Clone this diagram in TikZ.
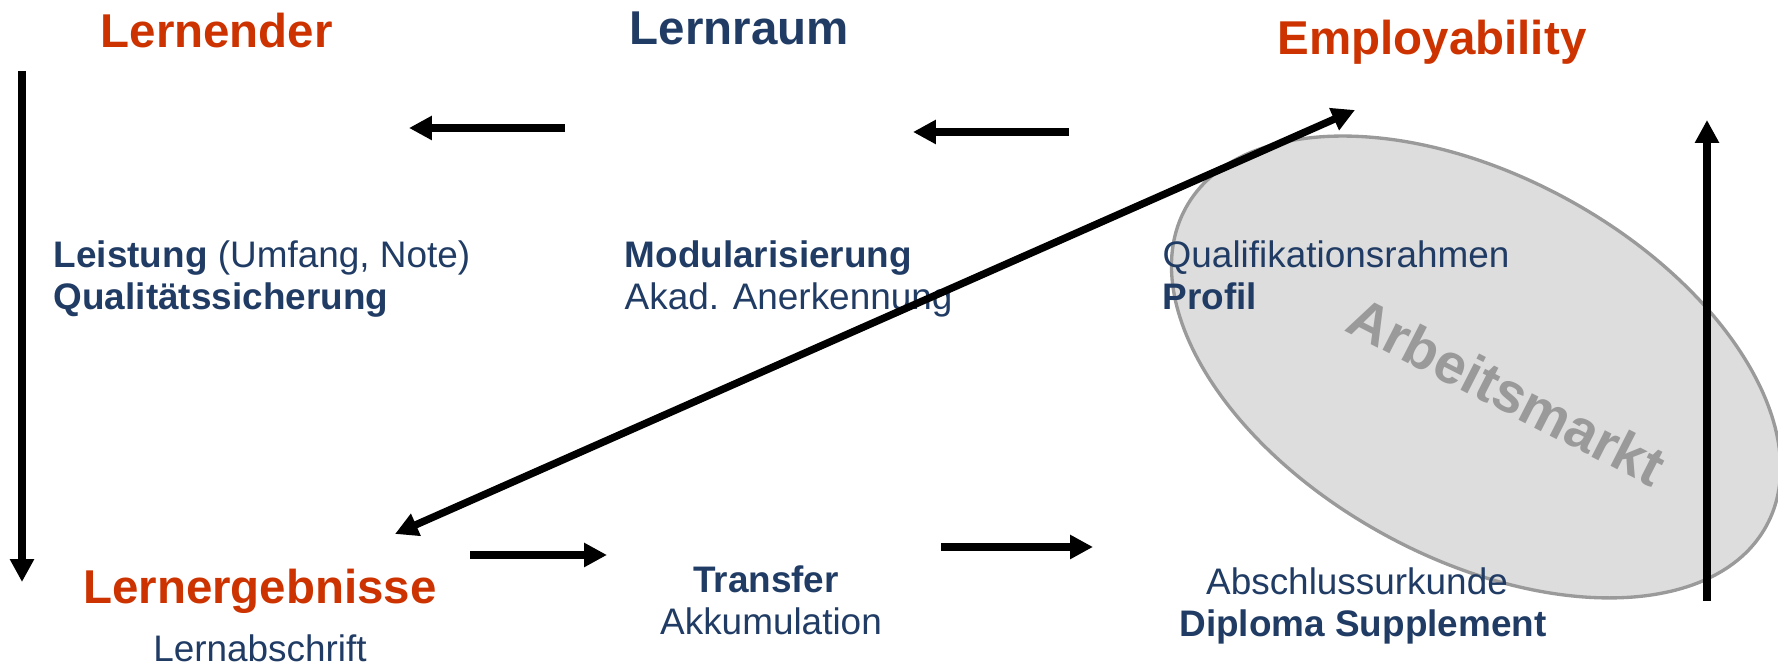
\documentclass[tikz,border=0pt]{standalone}
\usepackage{fontspec}
\setmainfont{Liberation Sans}
\usetikzlibrary{arrows.meta}
\definecolor{hred}{HTML}{CC3300}
\definecolor{hblue}{RGB}{33,60,100}
\definecolor{ellfill}{HTML}{DDDDDD}
\definecolor{elledge}{HTML}{9A9A9A}
\begin{document}
\begin{tikzpicture}[x=0.01cm,y=-0.01cm,
  heading/.style={inner sep=0pt, anchor=base west, font=\fontsize{13.5}{16}\selectfont\bfseries},
  body/.style={inner sep=0pt, anchor=base west, text=hblue, font=\fontsize{10.5}{12.6}\selectfont},
  arr/.style={line width=2.1pt, -{Triangle[length=6.5pt,width=6.5pt]}},
  darr/.style={line width=2.1pt, {Triangle[length=6.5pt,width=6.5pt]}-{Triangle[length=6.5pt,width=6.5pt]}},
  ellstyle/.style={fill=ellfill, draw=elledge, line width=0.95pt}]
\useasboundingbox (0,0) rectangle (1778,668);

% Arbeitsmarkt ellipse
\draw[ellstyle, rotate around={-28.7:(1476,367)}] (1476,367) ellipse [x radius=331, y radius=191];
\node[rotate=-27, inner sep=0pt, text=elledge, font=\fontsize{16}{19}\selectfont\bfseries] (markt) at (1507,391) {Arbeitsmarkt};

% headings
\node[heading, text=hred] (lernender) at (100,48) {Lernender};
\node[heading, text=hblue] (lernraum) at (629,45) {Lernraum};
\node[heading, text=hred] (employ) at (1277,55) {Employability};
\node[heading, text=hred, anchor=base] (ergebnisse) at (260,604) {Lernergebnisse};

% body texts
\node[body] (leistung) at (53,268) {\textbf{Leistung} (Umfang, Note)};
\node[body] (qs) at (53,310) {\textbf{Qualitätssicherung}};
\node[body] (modul) at (624,268) {\textbf{Modularisierung}};
\node[body] (akad) at (624,310) {Akad. Anerkennung};
\node[body] (qrahmen) at (1162,268) {Qualifikationsrahmen};
\node[body] (profil) at (1162,310) {\textbf{Profil}};
\node[body, anchor=base] (abschrift) at (260,662) {Lernabschrift};
\node[body, anchor=base] (transfer) at (766,593) {\textbf{Transfer}};
\node[body, anchor=base] (akku) at (771,635) {Akkumulation};
\node[body, anchor=base] (urkunde) at (1357,595) {Abschlussurkunde};
\node[body, anchor=base] (diploma) at (1363,637) {\textbf{Diploma Supplement}};

% arrow end points
\coordinate (vLs) at (22,71);    \coordinate (vLe) at (22,582);
\coordinate (t1s) at (565,128);  \coordinate (t1e) at (409,128);
\coordinate (t2s) at (1069,132); \coordinate (t2e) at (913,132);
\coordinate (dA) at (395,534);   \coordinate (dB) at (1355,110);
\coordinate (b1s) at (470,555);  \coordinate (b1e) at (607,555);
\coordinate (b2s) at (941,547);  \coordinate (b2e) at (1093,547);
\coordinate (vRs) at (1707,601); \coordinate (vRe) at (1707,120);

\draw[arr] (vLs) -- (vLe);
\draw[arr] (t1s) -- (t1e);
\draw[arr] (t2s) -- (t2e);
\draw[darr] (dA) -- (dB);
\draw[arr] (b1s) -- (b1e);
\draw[arr] (b2s) -- (b2e);
\draw[arr] (vRs) -- (vRe);
\end{tikzpicture}
\end{document}
